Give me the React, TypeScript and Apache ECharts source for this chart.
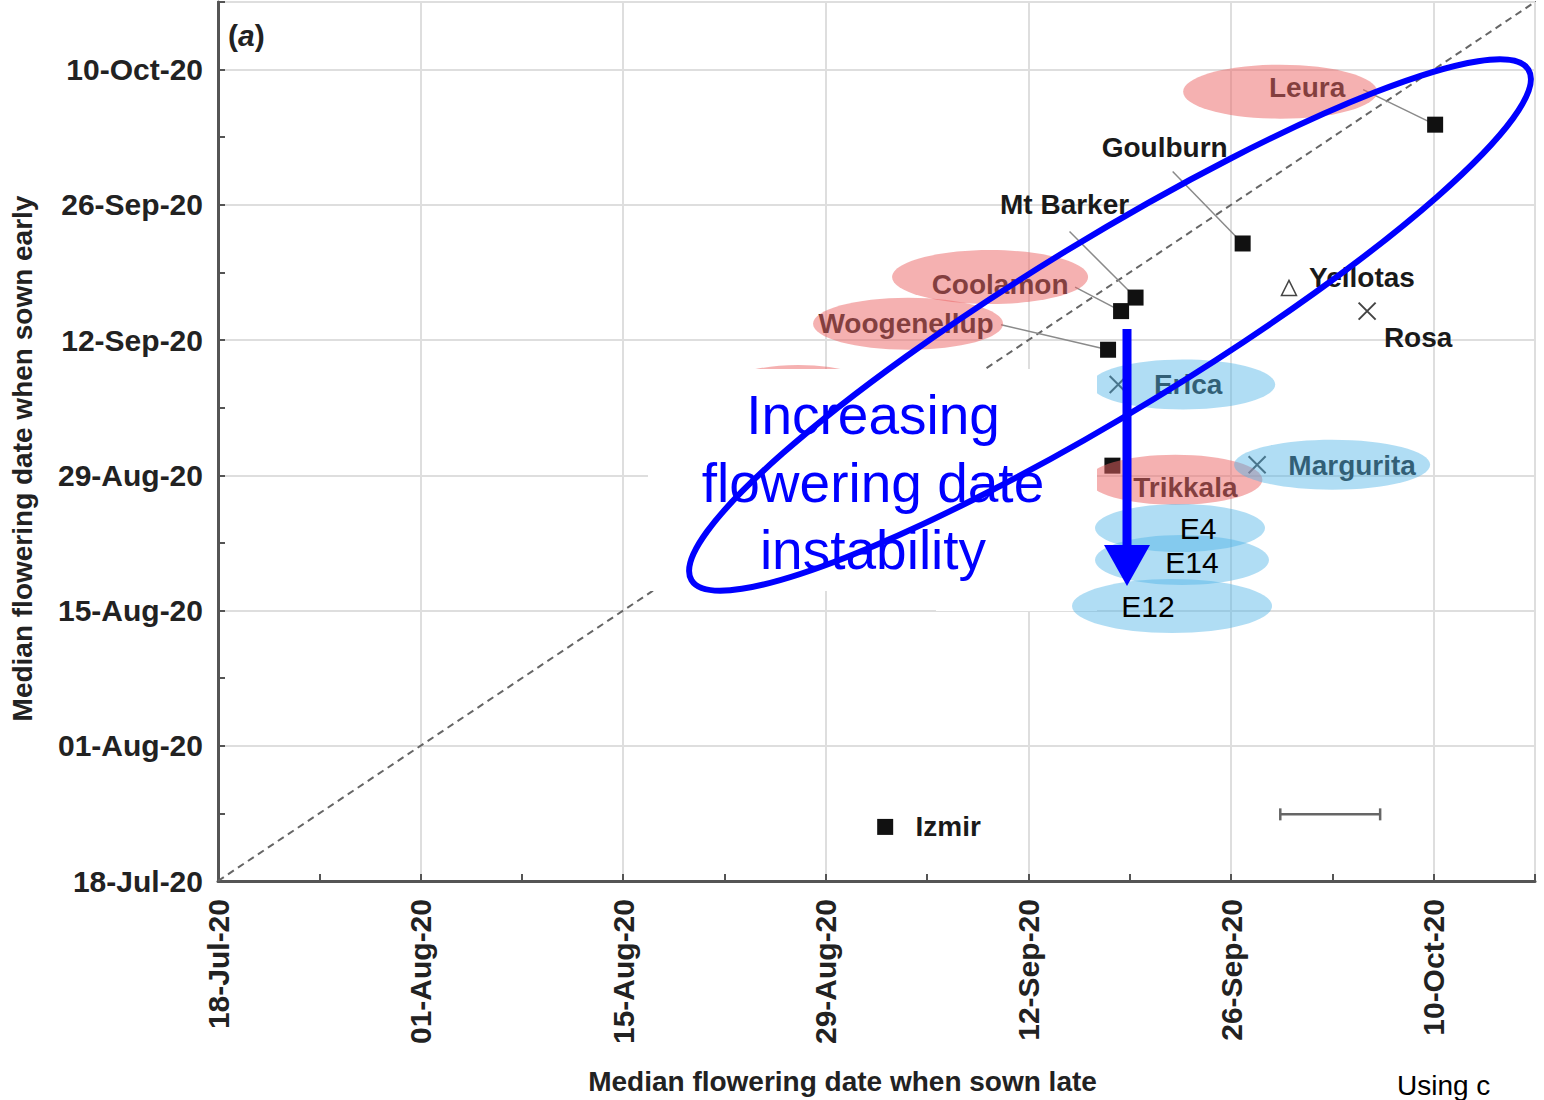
import React, { useEffect, useRef } from "react";
import * as echarts from "echarts";

// Axis tick labels (every 14 days, starting 18-Jul-20 = day 0)
const tickLabels = ["18-Jul-20", "01-Aug-20", "15-Aug-20", "29-Aug-20", "12-Sep-20", "26-Sep-20", "10-Oct-20"];

// Values are days after 18-Jul-20: x = sown late, y = sown early
const squareNames = ["Leura", "Goulburn", "Mt Barker", "Coolamon", "Woogenellup", "Trikkala", "Izmir"];
const squareLate = [84.1, 70.8, 63.4, 62.4, 61.5, 61.8, 46.1];
const squareEarly = [78.3, 66.0, 60.4, 59.0, 55.0, 43.0, 5.6];

const crossNames = ["Erica", "Rosa", "Margurita"];
const crossLate = [62.2, 79.4, 71.8];
const crossEarly = [51.4, 59.0, 43.1];

const triangleNames = ["Yellotas"];
const triangleLate = [74.0];
const triangleEarly = [61.4];

const oneToOneLine = [0, 91];
// LSD bar: [start, end, height] in days
const lsdBar = [73.4, 80.3, 6.9];

// ---------- layout / style (not data) ----------
const FONT = '"Liberation Sans", Arial, Helvetica, sans-serif';
const PINK = "rgba(235,100,100,0.5)";
const BLUE = "rgba(80,180,230,0.45)";

type Lay = { tx: number; ty: number; lx?: number; ly?: number; ell?: [number, number, number, number, string] };
const LABEL_LAYOUT: Record<string, Lay> = {
  Leura: { tx: -128, ty: -37, lx: -72, ly: -35, ell: [-155, -33, 97, 27, PINK] },
  Goulburn: { tx: -78, ty: -96, lx: -70, ly: -72 },
  "Mt Barker": { tx: -71, ty: -93, lx: -66, ly: -66 },
  Coolamon: { tx: -121, ty: -27, lx: -46, ly: -24, ell: [-131, -34, 98, 27, PINK] },
  Woogenellup: { tx: -202, ty: -26, lx: -107, ly: -25, ell: [-200, -26, 95, 26, PINK] },
  Trikkala: { tx: 73, ty: 22, ell: [63, 14, 87, 25, PINK] },
  Izmir: { tx: 63, ty: 0 },
  Erica: { tx: 70, ty: 0, ell: [65, 0, 92, 25, BLUE] },
  Rosa: { tx: 51, ty: 26 },
  Margurita: { tx: 95, ty: 1, ell: [75, 0, 98, 25, BLUE] },
  Yellotas: { tx: 73, ty: -10 },
};

const allNames = [...squareNames, ...crossNames, ...triangleNames];
const allLate = [...squareLate, ...crossLate, ...triangleLate];
const allEarly = [...squareEarly, ...crossEarly, ...triangleEarly];

function fmt(v: number) {
  if (v % 14 !== 0) return "";
  return tickLabels[v / 14] ?? "";
}

export default function App() {
  const ref = useRef<HTMLDivElement>(null);
  useEffect(() => {
    if (!ref.current) return;
    const chart = echarts.init(ref.current, undefined, { renderer: "svg" });

    const axisCommon = {
      type: "value" as const,
      min: 0,
      max: 91,
      interval: 14,
      axisLine: { show: true, onZero: false, lineStyle: { color: "#555", width: 3 } },
      axisTick: { show: true, inside: true, length: 7, lineStyle: { color: "#555", width: 2 } },
      minorTick: { show: true, splitNumber: 2, length: 7, lineStyle: { color: "#555", width: 2 } },
      splitLine: { show: true, lineStyle: { color: "#dedede", width: 2 } },
      nameLocation: "middle" as const,
    };

    const labelData = allNames.map((_, i) => [allLate[i], allEarly[i]]);

    const overlay: any[] = [
      // hidden pink label patch peeking above the white box
      { type: "ellipse", z: 50, shape: { cx: 798, cy: 392, rx: 80, ry: 27 }, style: { fill: PINK } },
      // white cover box
      {
        type: "polygon", z: 60,
        shape: { points: [[648, 369], [1097, 369], [1097, 611], [936, 611], [936, 591], [648, 591]] },
        style: { fill: "#ffffff" },
      },
      { type: "ellipse", z: 70, shape: { cx: 1180, cy: 528, rx: 85, ry: 24 }, style: { fill: BLUE } },
      { type: "ellipse", z: 70, shape: { cx: 1182, cy: 560, rx: 87, ry: 25 }, style: { fill: BLUE } },
      { type: "ellipse", z: 70, shape: { cx: 1172, cy: 606, rx: 100, ry: 27 }, style: { fill: BLUE } },
      { type: "text", z: 72, x: 1198, y: 528, style: { text: "E4", font: `30px ${FONT}`, fill: "#000", textAlign: "center", textVerticalAlign: "middle" } },
      { type: "text", z: 72, x: 1192, y: 562, style: { text: "E14", font: `30px ${FONT}`, fill: "#000", textAlign: "center", textVerticalAlign: "middle" } },
      { type: "text", z: 72, x: 1148, y: 606, style: { text: "E12", font: `30px ${FONT}`, fill: "#000", textAlign: "center", textVerticalAlign: "middle" } },
      // big blue ellipse
      {
        type: "ellipse", z: 80, x: 1110, y: 325, rotation: (31.4 * Math.PI) / 180,
        shape: { cx: 0, cy: 0, rx: 490, ry: 86 },
        style: { fill: "none", stroke: "#0000ff", lineWidth: 6 },
      },
      // arrow
      { type: "line", z: 85, shape: { x1: 1127, y1: 329, x2: 1127, y2: 552 }, style: { stroke: "#0000ff", lineWidth: 9 } },
      { type: "polygon", z: 85, shape: { points: [[1104, 545], [1150, 545], [1127, 586]] }, style: { fill: "#0000ff" } },
      // annotation text
      { type: "text", z: 90, x: 873, y: 415, style: { text: "Increasing", font: `55px ${FONT}`, fill: "#0000ff", textAlign: "center", textVerticalAlign: "middle" } },
      { type: "text", z: 90, x: 873, y: 483, style: { text: "flowering date", font: `55px ${FONT}`, fill: "#0000ff", textAlign: "center", textVerticalAlign: "middle" } },
      { type: "text", z: 90, x: 873, y: 550, style: { text: "instability", font: `55px ${FONT}`, fill: "#0000ff", textAlign: "center", textVerticalAlign: "middle" } },
      // panel letter
      {
        type: "text", z: 90, x: 228, y: 35,
        style: {
          text: "{n|(}{i|a}{n|)}",
          textVerticalAlign: "middle",
          rich: {
            n: { font: `bold 30px ${FONT}`, fill: "#222" },
            i: { font: `italic bold 30px ${FONT}`, fill: "#222" },
          },
        },
      },
      // caption fragment at page bottom
      { type: "text", z: 90, x: 1397, y: 1099, style: { text: "Using c", font: `28px ${FONT}`, fill: "#000", textVerticalAlign: "bottom" } },
    ];

    chart.setOption({
      animation: false,
      backgroundColor: "#ffffff",
      grid: { left: 218, right: 9, top: 2, bottom: 218, show: true, borderColor: "#777", borderWidth: 2, backgroundColor: "transparent" },
      xAxis: {
        ...axisCommon,
        name: "Median flowering date when sown late",
        nameGap: 186,
        nameTextStyle: { fontSize: 28, fontWeight: "bold", color: "#222", fontFamily: FONT, padding: [0, 68, 0, 0] },
        axisLabel: { rotate: 90, margin: 18, fontSize: 30, fontWeight: "bold", color: "#222", fontFamily: FONT, formatter: fmt, showMaxLabel: false },
      },
      yAxis: {
        ...axisCommon,
        name: "Median flowering date when sown early",
        nameGap: 182,
        nameTextStyle: { fontSize: 28, fontWeight: "bold", color: "#222", fontFamily: FONT, padding: [0, 34, 0, 0] },
        axisLabel: { margin: 15, fontSize: 30, fontWeight: "bold", color: "#222", fontFamily: FONT, formatter: fmt, showMaxLabel: false },
      },
      series: [
        {
          type: "line",
          data: [[oneToOneLine[0], oneToOneLine[0]], [oneToOneLine[1], oneToOneLine[1]]],
          symbol: "none",
          silent: true,
          z: 1,
          lineStyle: { color: "#666", width: 2, type: [7, 5] },
        },
        {
          type: "custom",
          z: 2,
          data: labelData,
          renderItem: (params: any, api: any) => {
            const p = api.coord([api.value(0), api.value(1)]);
            const L = LABEL_LAYOUT[allNames[params.dataIndex]];
            if (!L || L.lx === undefined) return { type: "group", children: [] };
            return {
              type: "line",
              shape: { x1: p[0] + L.lx, y1: p[1] + (L.ly ?? 0), x2: p[0], y2: p[1] },
              style: { stroke: "#8a8a8a", lineWidth: 1.5 },
            };
          },
        },
        {
          type: "scatter",
          z: 3,
          symbol: "rect",
          symbolSize: 16,
          itemStyle: { color: "#111", opacity: 1 },
          data: squareLate.map((x, i) => [x, squareEarly[i]]),
        },
        {
          type: "scatter",
          z: 3,
          symbol: "path://M0 0L10 10M10 0L0 10",
          symbolSize: 17,
          itemStyle: { color: "none", borderColor: "#444", borderWidth: 2, opacity: 1 },
          data: crossLate.map((x, i) => [x, crossEarly[i]]),
        },
        {
          type: "scatter",
          z: 3,
          symbol: "triangle",
          symbolSize: 15,
          itemStyle: { color: "none", borderColor: "#444", borderWidth: 1.5, opacity: 1 },
          data: triangleLate.map((x, i) => [x, triangleEarly[i]]),
        },
        {
          type: "custom",
          z: 4,
          data: labelData,
          renderItem: (params: any, api: any) => {
            const p = api.coord([api.value(0), api.value(1)]);
            const name = allNames[params.dataIndex];
            const L = LABEL_LAYOUT[name];
            const children: any[] = [
              {
                type: "text",
                x: p[0] + L.tx,
                y: p[1] + L.ty,
                style: { text: name, font: `bold 28px ${FONT}`, fill: "#1a1a1a", textAlign: "center", textVerticalAlign: "middle" },
              },
            ];
            if (L.ell) {
              const e = L.ell;
              children.push({
                type: "ellipse",
                shape: { cx: p[0] + e[0], cy: p[1] + e[1], rx: e[2], ry: e[3] },
                style: { fill: e[4] },
              });
            }
            return { type: "group", children };
          },
        },
        {
          type: "custom",
          z: 4,
          data: [lsdBar],
          renderItem: (_params: any, api: any) => {
            const a = api.coord([api.value(0), api.value(2)]);
            const b = api.coord([api.value(1), api.value(2)]);
            const st = { stroke: "#666", lineWidth: 2.5 };
            return {
              type: "group",
              children: [
                { type: "line", shape: { x1: a[0], y1: a[1], x2: b[0], y2: b[1] }, style: st },
                { type: "line", shape: { x1: a[0], y1: a[1] - 6, x2: a[0], y2: a[1] + 6 }, style: st },
                { type: "line", shape: { x1: b[0], y1: b[1] - 6, x2: b[0], y2: b[1] + 6 }, style: st },
              ],
            };
          },
        },
      ],
      graphic: { elements: overlay },
    });
    return () => chart.dispose();
  }, []);

  return (
    <div
      ref={ref}
      style={{ position: "fixed", left: 0, top: 0, width: 1544, height: 1100, background: "#fff" }}
    />
  );
}
